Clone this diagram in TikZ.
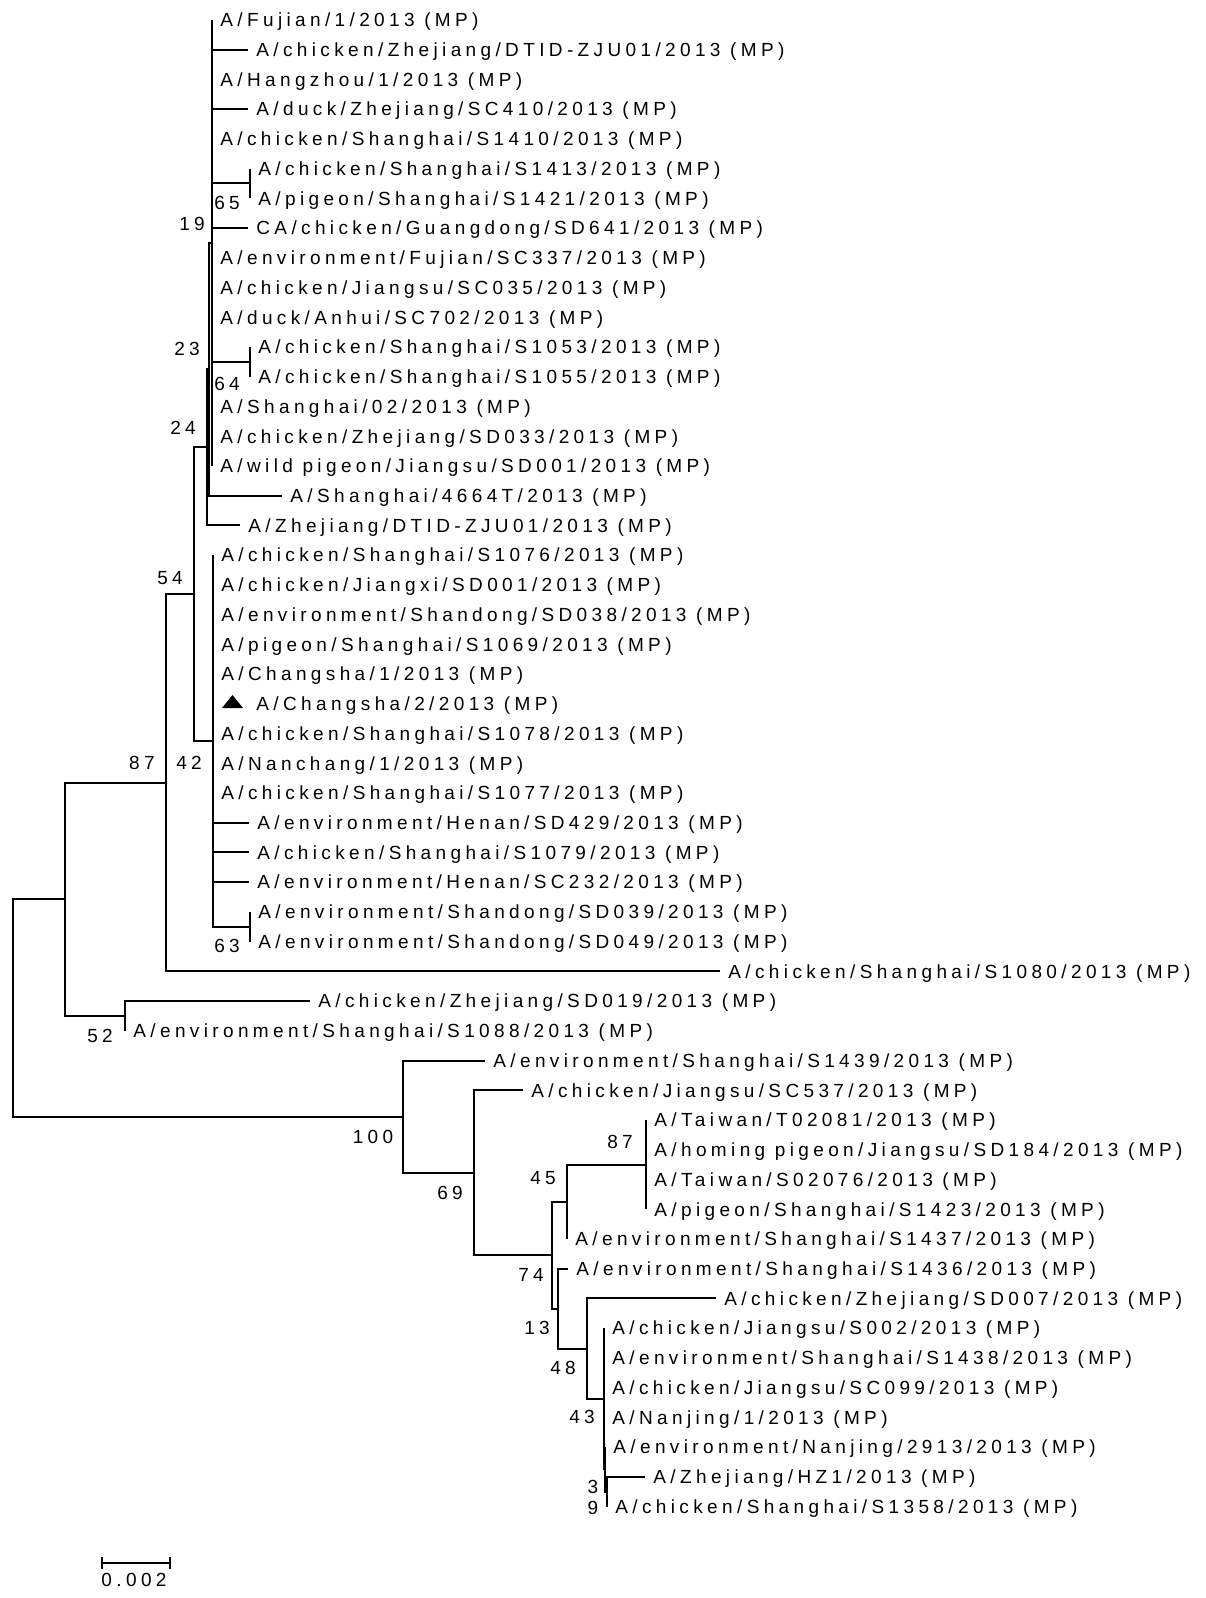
\documentclass[tikz,border=0pt]{standalone}
\usepackage{fontspec}
\setmainfont{Liberation Sans}[LetterSpace=23]
\usepackage{tikz}
\usetikzlibrary{arrows.meta}
\tikzset{>=latex}
\tikzset{
	br/.style={line width=1pt},
	lf/.style={anchor=west,inner sep=0pt,text height=6.8pt,text depth=0pt},
	bs/.style={inner sep=0pt,text height=6.8pt,text depth=0pt},
	every node/.style={font=\fontsize{9.5}{11}\selectfont}
}
% one taxon: row, parent, tip x, name
\newcommand{\leaf}[4]{%
	\coordinate (t#1) at (#3,{20+(#1-1)*29.73});
	\draw[br] (#2) |- (t#1);
	\node[lf] (l#1) at ({#3+8},{20+(#1-1)*29.73}) {#4};
}

\begin{document}
\begin{tikzpicture}[x=0.5pt,y=-0.5pt]
		\useasboundingbox (0,0) rectangle (1205,1598);
		% inner nodes
		\coordinate (root) at (13,1008);
		\coordinate (A) at (65,899.4);
		\coordinate (B) at (403,1116.6);
		\coordinate (C) at (166,782.8);
		\coordinate (D) at (125,1016);
		\coordinate (E) at (194,594.2);
		\coordinate (F) at (207,447.4);
		\coordinate (Q) at (209,369.3);
		\coordinate (R) at (212,243);
		\coordinate (S) at (250,361.9);
		\coordinate (T) at (250,183.5);
		\coordinate (G) at (213,741);
		\coordinate (H) at (250,926.8);
		\coordinate (I) at (474,1172.7);
		\coordinate (J) at (552,1255.2);
		\coordinate (K) at (567,1201.8);
		\coordinate (L) at (646,1164.6);
		\coordinate (M) at (558,1308.6);
		\coordinate (N) at (587,1348.5);
		\coordinate (O) at (604,1398.7);
		\coordinate (P) at (605,1469.3);
		\coordinate (P2) at (607,1491.6);
		
		\foreach \a/\b in {root/A,root/B,A/C,A/D,C/E,E/F,E/G,F/Q,Q/R,R/S,R/T,G/H,B/I,I/J,J/K,J/M,K/L,M/N,N/O,O/P,P/P2}
		{
			\draw[br] (\a) |- (\b);
		}
		
		\leaf{1}{R}{212}{A/Fujian/1/2013 (MP)}
		\leaf{2}{R}{248}{A/chicken/Zhejiang/DTID-ZJU01/2013 (MP)}
		\leaf{3}{R}{212}{A/Hangzhou/1/2013 (MP)}
		\leaf{4}{R}{248}{A/duck/Zhejiang/SC410/2013 (MP)}
		\leaf{5}{R}{212}{A/chicken/Shanghai/S1410/2013 (MP)}
		\leaf{6}{T}{250}{A/chicken/Shanghai/S1413/2013 (MP)}
		\leaf{7}{T}{250}{A/pigeon/Shanghai/S1421/2013 (MP)}
		\leaf{8}{R}{248}{CA/chicken/Guangdong/SD641/2013 (MP)}
		\leaf{9}{R}{212}{A/environment/Fujian/SC337/2013 (MP)}
		\leaf{10}{R}{212}{A/chicken/Jiangsu/SC035/2013 (MP)}
		\leaf{11}{R}{212}{A/duck/Anhui/SC702/2013 (MP)}
		\leaf{12}{S}{250}{A/chicken/Shanghai/S1053/2013 (MP)}
		\leaf{13}{S}{250}{A/chicken/Shanghai/S1055/2013 (MP)}
		\leaf{14}{R}{212}{A/Shanghai/02/2013 (MP)}
		\leaf{15}{R}{212}{A/chicken/Zhejiang/SD033/2013 (MP)}
		\leaf{16}{R}{212}{A/wild pigeon/Jiangsu/SD001/2013 (MP)}
		\leaf{17}{Q}{282}{A/Shanghai/4664T/2013 (MP)}
		\leaf{18}{F}{240}{A/Zhejiang/DTID-ZJU01/2013 (MP)}
		\leaf{19}{G}{213}{A/chicken/Shanghai/S1076/2013 (MP)}
		\leaf{20}{G}{213}{A/chicken/Jiangxi/SD001/2013 (MP)}
		\leaf{21}{G}{213}{A/environment/Shandong/SD038/2013 (MP)}
		\leaf{22}{G}{213}{A/pigeon/Shanghai/S1069/2013 (MP)}
		\leaf{23}{G}{213}{A/Changsha/1/2013 (MP)}
		\coordinate (t24) at (213,703.79);
		\fill (222,708) -- (243,708) -- (232.5,695) -- cycle;
		\node[lf] (l24) at (256,703.79) {A/Changsha/2/2013 (MP)};
		\leaf{25}{G}{213}{A/chicken/Shanghai/S1078/2013 (MP)}
		\leaf{26}{G}{213}{A/Nanchang/1/2013 (MP)}
		\leaf{27}{G}{213}{A/chicken/Shanghai/S1077/2013 (MP)}
		\leaf{28}{G}{249}{A/environment/Henan/SD429/2013 (MP)}
		\leaf{29}{G}{249}{A/chicken/Shanghai/S1079/2013 (MP)}
		\leaf{30}{G}{249}{A/environment/Henan/SC232/2013 (MP)}
		\leaf{31}{H}{250}{A/environment/Shandong/SD039/2013 (MP)}
		\leaf{32}{H}{250}{A/environment/Shandong/SD049/2013 (MP)}
		\leaf{33}{C}{720}{A/chicken/Shanghai/S1080/2013 (MP)}
		\leaf{34}{D}{310}{A/chicken/Zhejiang/SD019/2013 (MP)}
		\leaf{35}{D}{125}{A/environment/Shanghai/S1088/2013 (MP)}
		\leaf{36}{B}{485}{A/environment/Shanghai/S1439/2013 (MP)}
		\leaf{37}{I}{523}{A/chicken/Jiangsu/SC537/2013 (MP)}
		\leaf{38}{L}{646}{A/Taiwan/T02081/2013 (MP)}
		\leaf{39}{L}{646}{A/homing pigeon/Jiangsu/SD184/2013 (MP)}
		\leaf{40}{L}{646}{A/Taiwan/S02076/2013 (MP)}
		\leaf{41}{L}{646}{A/pigeon/Shanghai/S1423/2013 (MP)}
		\leaf{42}{K}{567}{A/environment/Shanghai/S1437/2013 (MP)}
		\leaf{43}{M}{568}{A/environment/Shanghai/S1436/2013 (MP)}
		\leaf{44}{N}{716}{A/chicken/Zhejiang/SD007/2013 (MP)}
		\leaf{45}{O}{604}{A/chicken/Jiangsu/S002/2013 (MP)}
		\leaf{46}{O}{604}{A/environment/Shanghai/S1438/2013 (MP)}
		\leaf{47}{O}{604}{A/chicken/Jiangsu/SC099/2013 (MP)}
		\leaf{48}{O}{604}{A/Nanjing/1/2013 (MP)}
		\leaf{49}{P}{605}{A/environment/Nanjing/2913/2013 (MP)}
		\leaf{50}{P2}{645}{A/Zhejiang/HZ1/2013 (MP)}
		\leaf{51}{P2}{607}{A/chicken/Shanghai/S1358/2013 (MP)}
		
		% bootstrap values
		\node[bs] (bT) at (227,203) {65};
		\node[bs] (bR) at (192,224) {19};
		\node[bs] (bQ) at (187,349) {23};
		\node[bs] (bS) at (227,384) {64};
		\node[bs] (bF) at (183,428) {24};
		\node[bs] (bE) at (170,578) {54};
		\node[bs] (bC) at (142,763) {87};
		\node[bs] (bG) at (189,763) {42};
		\node[bs] (bH) at (227,946) {63};
		\node[bs] (bD) at (100,1036) {52};
		\node[bs] (bB) at (373,1137) {100};
		\node[bs] (bI) at (450,1193) {69};
		\node[bs] (bL) at (620,1142) {87};
		\node[bs] (bK) at (543,1178) {45};
		\node[bs] (bJ) at (531,1275) {74};
		\node[bs] (bM) at (537,1328) {13};
		\node[bs] (bN) at (563,1368) {48};
		\node[bs] (bO) at (582,1417) {43};
		\node[bs] (bP) at (593,1487) {3};
		\node[bs] (bP2) at (593,1508) {9};
		
		% scale
		\coordinate (sbl) at (101,1563);
		\coordinate (sbr) at (171,1563);
		\draw[br,{Bar[width=6pt]}-{Bar[width=6pt]}] (sbl) -- (sbr);
		\node[bs] (sblab) at (134,1580) {0.002};
	\end{tikzpicture}
\end{document}
